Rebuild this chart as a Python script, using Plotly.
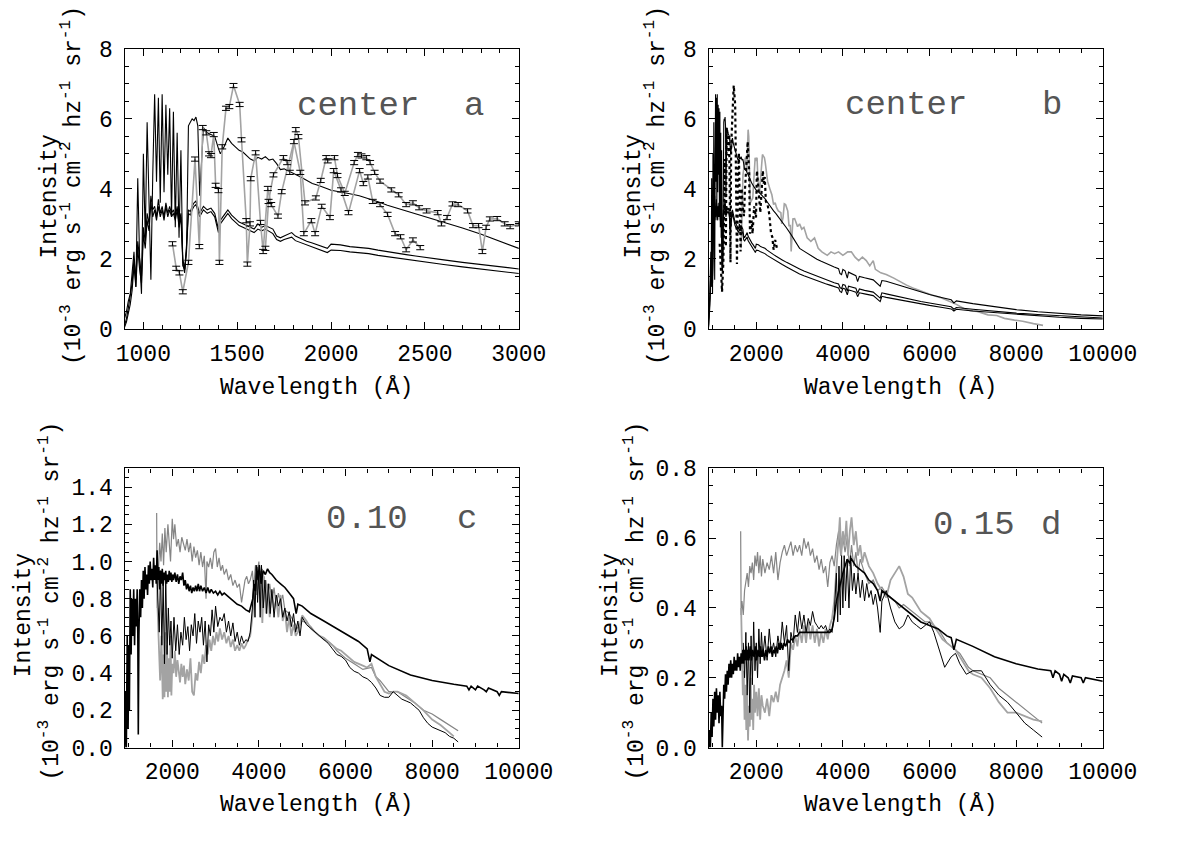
import plotly.graph_objects as go

W, H = 1185, 842
FONT = "Liberation Mono"

# ---------------- panels a & b : model spectra (same models in both) ----------------
AB_WAVE = [900, 910, 920, 930, 940, 950, 960, 970, 980, 990,
           1000, 1010, 1020, 1030, 1040, 1050, 1060, 1070, 1080, 1090,
           1100, 1110, 1120, 1130, 1140, 1150, 1160, 1170, 1180, 1190,
           1200, 1210, 1220, 1230, 1240, 1250, 1260, 1270, 1280, 1290,
           1300, 1320, 1340, 1360, 1380, 1400, 1410, 1430, 1450, 1470,
           1490, 1510, 1530, 1550, 1570, 1590, 1610, 1630, 1650, 1670,
           1690, 1710, 1730, 1750, 1770, 1790, 1810, 1830, 1850, 1870,
           1900, 1930, 1960, 1980, 2000, 2050, 2100, 2150, 2200, 2250,
           2300, 2350, 2400, 2450, 2500, 2600, 2700, 2800, 2900, 3000,
           3100, 3200, 3300, 3400, 3500, 3600, 3700, 3800, 3900, 3933,
           3970, 4000, 4050, 4102, 4130, 4200, 4300, 4340, 4380, 4500,
           4700, 4861, 4900, 5000, 5200, 5500, 5800, 6000, 6300, 6500,
           6563, 6620, 7000, 7500, 8000, 8500, 9000, 9500, 10000]
AB_MODEL_HI = [0.3, 0.5, 0.8, 1.0, 1.6, 2.2, 1.2, 4.3, 2.0, 1.0,
               5.0, 2.6, 5.9, 3.2, 1.4, 4.4, 6.7, 4.2, 6.6, 3.6,
               6.7, 3.9, 6.4, 4.4, 6.3, 3.2, 6.2, 2.9, 5.6, 2.6,
               5.1, 1.8, 1.7, 2.2, 5.8, 5.9, 6.0, 5.95, 6.05, 5.8,
               3.8, 5.75, 5.6, 5.55, 5.5, 5.15, 5.0, 5.2, 5.45, 5.3,
               5.2, 5.1, 5.05, 4.95, 4.85, 4.8, 4.9, 4.85, 4.92, 4.82,
               4.85, 4.72, 4.55, 4.57, 4.52, 4.48, 4.42, 4.36, 4.3, 4.24,
               4.15, 4.1, 4.05, 4.0, 3.96, 3.92, 3.86, 3.8, 3.72, 3.63,
               3.53, 3.45, 3.37, 3.3, 3.22, 3.05, 2.88, 2.7, 2.5, 2.3,
               2.22, 2.14, 2.06, 1.99, 1.93, 1.87, 1.82, 1.77, 1.72, 1.58,
               1.55, 1.7, 1.66, 1.45, 1.62, 1.58, 1.52, 1.35, 1.5, 1.46,
               1.4, 1.22, 1.38, 1.36, 1.28, 1.18, 1.05, 0.98, 0.89, 0.83,
               0.74, 0.8, 0.72, 0.63, 0.55, 0.49, 0.44, 0.4, 0.37]
AB_MODEL_MID = [0.1, 0.3, 0.6, 0.9, 1.3, 2.0, 1.4, 2.5, 1.9, 1.5,
                2.9, 2.5, 3.3, 3.0, 3.8, 3.4, 3.5, 3.2, 3.7, 3.3,
                3.5, 3.2, 3.6, 3.3, 3.5, 3.3, 3.4, 3.2, 3.5, 3.0,
                3.3, 2.0, 1.7, 2.4, 3.4, 3.35, 3.5, 3.6, 3.65, 3.5,
                3.3, 3.5, 3.4, 3.45, 3.3, 2.85, 3.1, 3.25, 3.4, 3.25,
                3.15, 3.05, 3.0, 2.95, 2.9, 2.85, 3.0, 2.9, 2.95, 2.9,
                2.85, 2.65, 2.6, 2.65, 2.7, 2.75, 2.65, 2.6, 2.55, 2.5,
                2.45, 2.4, 2.35, 2.3, 2.42, 2.4, 2.35, 2.33, 2.3, 2.25,
                2.2, 2.17, 2.12, 2.08, 2.05, 1.97, 1.9, 1.83, 1.77, 1.71,
                1.65, 1.6, 1.55, 1.5, 1.45, 1.4, 1.36, 1.32, 1.28, 1.18,
                1.15, 1.27, 1.25, 1.08, 1.22, 1.2, 1.16, 1.02, 1.14, 1.1,
                1.05, 0.88, 1.03, 1.0, 0.94, 0.86, 0.78, 0.74, 0.67, 0.63,
                0.56, 0.61, 0.56, 0.5, 0.45, 0.41, 0.37, 0.34, 0.31]
AB_MODEL_LO = [0.05, 0.2, 0.45, 0.7, 1.1, 1.8, 1.2, 2.3, 1.7, 1.3,
               2.7, 2.3, 3.1, 2.8, 3.6, 3.2, 3.4, 3.1, 3.5, 3.2,
               3.4, 3.1, 3.5, 3.2, 3.4, 3.2, 3.3, 3.1, 3.4, 2.9,
               3.2, 1.9, 1.6, 2.3, 3.3, 3.25, 3.4, 3.5, 3.55, 3.4,
               3.2, 3.4, 3.3, 3.35, 3.2, 2.75, 3.0, 3.15, 3.3, 3.15,
               3.05, 2.95, 2.9, 2.85, 2.78, 2.75, 2.85, 2.8, 2.85, 2.78,
               2.72, 2.55, 2.5, 2.55, 2.58, 2.62, 2.52, 2.48, 2.43, 2.38,
               2.33, 2.28, 2.22, 2.18, 2.25, 2.24, 2.2, 2.18, 2.15, 2.1,
               2.06, 2.02, 1.98, 1.94, 1.91, 1.84, 1.77, 1.7, 1.63, 1.57,
               1.52, 1.47, 1.42, 1.37, 1.33, 1.29, 1.25, 1.21, 1.17, 1.07,
               1.04, 1.16, 1.14, 0.97, 1.11, 1.09, 1.05, 0.92, 1.03, 1.0,
               0.95, 0.78, 0.93, 0.9, 0.85, 0.78, 0.71, 0.67, 0.61, 0.57,
               0.51, 0.56, 0.51, 0.46, 0.41, 0.37, 0.33, 0.3, 0.28]

# observed data set 1 (error bars in a, dotted in b)
OBS1_WAVE = [1155, 1175, 1192, 1210, 1240, 1275, 1298, 1316, 1335, 1350,
             1360, 1375, 1385, 1400, 1405, 1420, 1440, 1458, 1480, 1513,
             1523, 1548, 1554, 1568, 1572, 1598, 1624, 1638, 1663, 1681,
             1717, 1737, 1802, 1836, 1855, 1895, 1915, 1950, 1994, 2014,
             2053, 2093, 2152, 2172, 2196, 2222, 2261, 2301, 2341, 2370,
             2400, 2436, 2475]
OBS1_FLUX = [2.43, 1.73, 1.6, 1.06, 1.9, 4.85, 2.35, 5.75, 5.6, 5.0,
             4.95, 5.55, 4.1, 3.95, 1.9, 5.2, 6.3, 6.35, 6.95, 6.41,
             5.4, 3.09, 1.85, 3.0, 4.29, 5.03, 3.04, 2.21, 4.01, 3.55,
             3.22, 3.92, 5.35, 4.47, 2.72, 3.09, 2.72, 3.5, 3.18, 4.52,
             3.97, 3.32, 4.52, 4.15, 4.34, 3.64, 3.55, 3.27, 2.72, 2.63,
             2.26, 2.54, 2.32]
# observed data set 2 (error bars in a, grey line in b)
OBS2_WAVE = [1650, 1667, 1693, 1746, 1766, 1780, 1812, 1826, 1861, 1919,
             1945, 1974, 1982, 2018, 2034, 2073, 2123, 2143, 2162, 2188,
             2208, 2232, 2261, 2321, 2360, 2400, 2436, 2469, 2509, 2568,
             2588, 2618, 2647, 2677, 2727, 2756, 2786, 2806, 2826, 2846,
             2885, 2925, 2954, 3000, 3050, 3100, 3175, 3260, 3345, 3430,
             3515, 3640, 3725, 3810, 3900, 4000, 4110, 4195, 4280, 4365,
             4450, 4540, 4620, 4700, 4750, 4875, 5000, 5175, 5320, 5470,
             5650, 5855, 6050, 6240, 6430, 6620, 6790, 6950, 7100, 7350,
             7550, 7730, 7960, 8150, 8400, 8620]
OBS2_FLUX = [2.3, 3.64, 4.4, 4.89, 4.75, 4.47, 5.69, 5.49, 3.6, 3.74,
             4.24, 4.89, 4.8, 4.89, 4.38, 3.87, 4.75, 4.98, 4.94, 4.89,
             4.75, 4.47, 4.22, 3.97, 3.83, 3.55, 3.6, 3.46, 3.37, 3.32,
             3.0, 3.18, 3.57, 3.55, 3.37, 2.95, 2.95, 2.21, 2.9, 3.14,
             3.15, 3.0, 2.92, 3.0, 2.85, 2.9, 2.6, 2.5, 2.6, 2.3,
             2.2, 2.1, 2.2, 2.15, 2.2, 2.1, 2.2, 2.2, 2.05, 1.95,
             2.05, 1.95, 1.8, 1.95, 1.7, 1.6, 1.55, 1.45, 1.35, 1.25,
             1.15, 1.05, 0.97, 0.9, 0.8, 0.7, 0.58, 0.52, 0.5, 0.4,
             0.38, 0.3, 0.25, 0.22, 0.15, 0.1]
OBS_ERR = 0.06

# ---------------- panel c (0.10) ----------------
C_MODEL_WAVE = [900, 920, 940, 960, 980, 1000, 1010, 1030, 1050, 1070,
                1090, 1110, 1130, 1150, 1170, 1190, 1205, 1216, 1230, 1250,
                1270, 1290, 1310, 1330, 1350, 1370, 1390, 1410, 1430, 1450,
                1470, 1490, 1510, 1530, 1550, 1570, 1590, 1610, 1630, 1650,
                1670, 1690, 1710, 1730, 1750, 1770, 1790, 1810, 1830, 1850,
                1870, 1890, 1910, 1930, 1950, 1970, 1990, 2010, 2030, 2060,
                2090, 2120, 2150, 2180, 2210, 2240, 2270, 2300, 2330, 2360,
                2390, 2420, 2450, 2480, 2510, 2540, 2570, 2600, 2630, 2660,
                2700, 2740, 2780, 2820, 2860, 2900, 2950, 3000, 3050, 3100,
                3150, 3200, 3300, 3400, 3500, 3600, 3700, 3780, 3820, 3860,
                3890, 3920, 3950, 3980, 4010, 4050, 4100, 4150, 4200, 4250,
                4300, 4400, 4500, 4600, 4700, 4800, 4861, 4900, 5000, 5200,
                5500, 5800, 6000, 6300, 6500, 6563, 6600, 6800, 7000, 7500,
                8000, 8500, 8800, 8850, 8900, 9000, 9050, 9200, 9250, 9300,
                9500, 9550, 9600, 10000]
C_MODEL_FLUX = [0.0, 0.3, 0.0, 0.6, 0.1, 0.55, 0.2, 0.85, 0.5, 0.8,
                0.6, 0.85, 0.55, 0.8, 0.65, 0.85, 0.6, 0.07, 0.6, 0.85,
                0.7, 0.9, 0.75, 0.95, 0.8, 0.97, 0.85, 0.93, 0.82, 0.98,
                0.88, 1.0, 0.9, 0.96, 0.86, 1.02, 0.9, 0.98, 0.88, 1.06,
                0.9, 0.97, 0.85, 0.95, 0.88, 0.96, 0.87, 0.94, 0.9, 0.95,
                0.88, 0.93, 0.89, 0.95, 0.9, 0.94, 0.89, 0.93, 0.9, 0.94,
                0.89, 0.93, 0.88, 0.92, 0.9, 0.94, 0.87, 0.9, 0.85, 0.88,
                0.84, 0.87, 0.83, 0.86, 0.84, 0.87, 0.84, 0.88, 0.84, 0.87,
                0.84, 0.86, 0.83, 0.86, 0.83, 0.85, 0.83, 0.84, 0.82, 0.84,
                0.82, 0.83, 0.81, 0.79, 0.77, 0.76, 0.74, 0.73, 0.76, 0.8,
                0.88, 0.84, 0.97, 0.9, 0.98, 0.88, 0.95, 0.93, 0.96, 0.94,
                0.93, 0.9, 0.88, 0.86, 0.83, 0.8, 0.72, 0.77, 0.76, 0.72,
                0.68, 0.64, 0.61, 0.57, 0.53, 0.46, 0.5, 0.47, 0.44, 0.39,
                0.36, 0.34, 0.33, 0.31, 0.33, 0.31, 0.33, 0.31, 0.3, 0.32,
                0.3, 0.28, 0.3, 0.29]
C_THIN_WAVE = [1650, 1700, 1730, 1760, 1790, 1820, 1850, 1880, 1910, 1940,
               1970, 2000, 2040, 2080, 2120, 2160, 2200, 2240, 2280, 2320,
               2360, 2400, 2440, 2480, 2520, 2560, 2600, 2640, 2680, 2720,
               2760, 2800, 2840, 2880, 2920, 2960, 3000, 3050, 3100, 3150,
               3200, 3250, 3300, 3350, 3400, 3450, 3500, 3550, 3600, 3650,
               3700, 3750, 3800, 3850, 3880, 3910, 3940, 3970, 4000, 4030,
               4060, 4100, 4140, 4180, 4220, 4260, 4300, 4350, 4400, 4450,
               4500, 4550, 4600, 4650, 4700, 4750, 4800, 4850, 4900, 4950,
               5000, 5100, 5200, 5300, 5400, 5500, 5600, 5700, 5800, 5900,
               6000, 6100, 6200, 6300, 6400, 6500, 6600, 6700, 6800, 6900,
               7000, 7100, 7200, 7300, 7400, 7500, 7600, 7700, 7800, 7900,
               8000, 8100, 8200, 8300, 8400, 8500, 8600]
C_THIN_FLUX = [0.9, 0.62, 0.95, 0.55, 0.88, 0.45, 0.92, 0.5, 0.75, 0.55,
               0.68, 0.48, 0.7, 0.52, 0.66, 0.5, 0.62, 0.55, 0.7, 0.58,
               0.65, 0.52, 0.66, 0.6, 0.72, 0.56, 0.68, 0.62, 0.7, 0.55,
               0.68, 0.46, 0.66, 0.6, 0.74, 0.62, 0.76, 0.65, 0.7, 0.68,
               0.72, 0.62, 0.68, 0.6, 0.67, 0.57, 0.62, 0.55, 0.6, 0.56,
               0.58, 0.57, 0.62, 0.75, 0.9, 0.7, 0.98, 0.78, 0.95, 0.7,
               0.98, 0.75, 0.9, 0.72, 0.88, 0.72, 0.85, 0.7, 0.82, 0.76,
               0.8, 0.7, 0.75, 0.68, 0.73, 0.65, 0.72, 0.62, 0.68, 0.6,
               0.7, 0.66, 0.64, 0.62, 0.6, 0.58, 0.56, 0.53, 0.5, 0.49,
               0.47, 0.43, 0.41, 0.4, 0.38, 0.37, 0.35, 0.32, 0.28, 0.27,
               0.27, 0.3, 0.28, 0.26, 0.25, 0.24, 0.22, 0.2, 0.16, 0.13,
               0.11, 0.1, 0.09, 0.08, 0.06, 0.05, 0.03]
C_GREY1_WAVE = [1640, 1650, 1680, 1710, 1740, 1770, 1800, 1830, 1860, 1900,
                1930, 1960, 2000, 2030, 2060, 2100, 2140, 2180, 2220, 2260,
                2300, 2340, 2380, 2420, 2460, 2500, 2540, 2580, 2620, 2660,
                2700, 2740, 2780, 2800, 2840, 2880, 2920, 2960, 3000, 3040,
                3080, 3120, 3160, 3200, 3250, 3300, 3350, 3400, 3450, 3500,
                3550, 3600, 3640, 3680, 3720, 3760, 3800, 3850, 3880, 3920,
                3960, 4000, 4040, 4080, 4120, 4160, 4200, 4250, 4300, 4350,
                4400, 4450, 4500, 4550, 4600, 4700, 4800, 4900, 5000, 5100,
                5200, 5300, 5400, 5500, 5600, 5700, 5800, 5900, 6000, 6200,
                6400, 6600, 6700, 6800, 6900, 7000, 7200, 7400, 7600, 7800,
                8000, 8200, 8400, 8600]
C_GREY1_FLUX = [1.26, 0.75, 0.95, 1.1, 1.0, 1.15, 0.98, 1.18, 1.05, 1.2,
                1.1, 1.0, 1.23, 1.12, 1.2, 1.08, 1.12, 1.05, 1.13, 1.1,
                1.06, 1.12, 1.05, 1.1, 1.0, 1.08, 1.02, 1.06, 0.98, 1.05,
                0.97, 1.03, 0.8, 1.0, 0.97, 1.02, 0.96, 1.05, 1.07, 0.97,
                1.02, 0.95, 0.98, 0.93, 0.96, 0.9, 0.93, 0.87, 0.9, 0.86,
                0.88, 0.78, 0.85, 0.9, 0.92, 0.88, 0.9, 0.95, 0.85, 0.98,
                0.93, 1.0, 0.75, 0.96, 0.8, 0.9, 0.82, 0.88, 0.78, 0.86,
                0.76, 0.83, 0.78, 0.82, 0.74, 0.72, 0.68, 0.64, 0.68, 0.67,
                0.65, 0.62, 0.6, 0.58, 0.57, 0.55, 0.52, 0.5, 0.48, 0.45,
                0.42, 0.43, 0.38, 0.36, 0.33, 0.3, 0.3, 0.27, 0.24, 0.2,
                0.18, 0.15, 0.12, 0.09]
C_GREY2_WAVE = [1660, 1690, 1720, 1750, 1780, 1800, 1820, 1840, 1860, 1880,
                1900, 1920, 1940, 1960, 1980, 2000, 2030, 2060, 2090, 2120,
                2150, 2180, 2210, 2240, 2270, 2300, 2340, 2380, 2420, 2460,
                2500, 2540, 2580, 2620, 2660, 2700, 2740, 2780, 2820, 2860,
                2900, 2940, 2980, 3020, 3060, 3100, 3150, 3200, 3250, 3300,
                3350, 3400, 3450, 3500, 3550, 3600, 3650, 3700, 3750, 3800,
                3850, 3880, 3920, 3950, 3980, 4010, 4040, 4080, 4120, 4160,
                4200, 4250, 4300, 4350, 4400, 4450, 4500, 4550, 4600, 4650,
                4700, 4750, 4800, 4850, 4900, 5000, 5100, 5200, 5300, 5400,
                5500, 5600, 5700, 5800, 5900, 6000, 6200, 6400, 6500, 6600,
                6700, 6800, 6900, 7000, 7100, 7200, 7400, 7600, 7800, 8000,
                8200, 8400, 8500]
C_GREY2_FLUX = [0.75, 0.55, 0.36, 0.6, 0.26, 0.5, 0.27, 0.62, 0.3, 0.55,
                0.27, 0.48, 0.3, 0.6, 0.28, 0.45, 0.4, 0.52, 0.38, 0.47,
                0.42, 0.35, 0.45, 0.38, 0.44, 0.34, 0.42, 0.36, 0.48, 0.3,
                0.28, 0.4, 0.36, 0.46, 0.4, 0.5, 0.45, 0.55, 0.5, 0.58,
                0.52, 0.6, 0.55, 0.62, 0.57, 0.64, 0.58, 0.62, 0.56, 0.6,
                0.54, 0.58, 0.52, 0.55, 0.52, 0.56, 0.53, 0.55, 0.58, 0.6,
                0.7, 0.8, 0.9, 0.82, 0.98, 0.85, 0.95, 0.67, 0.92, 0.72,
                0.88, 0.7, 0.84, 0.74, 0.8, 0.7, 0.82, 0.68, 0.74, 0.62,
                0.7, 0.6, 0.66, 0.6, 0.62, 0.71, 0.68, 0.64, 0.62, 0.6,
                0.59, 0.57, 0.55, 0.53, 0.52, 0.5, 0.46, 0.44, 0.43, 0.45,
                0.38, 0.34, 0.3, 0.29, 0.3, 0.3, 0.28, 0.24, 0.2, 0.15,
                0.12, 0.08, 0.06]

# ---------------- panel d (0.15) ----------------
D_MODEL_WAVE = [900, 920, 940, 960, 980, 1000, 1020, 1040, 1060, 1080,
                1100, 1120, 1140, 1160, 1180, 1200, 1216, 1230, 1250, 1270,
                1290, 1310, 1330, 1350, 1370, 1390, 1410, 1430, 1450, 1470,
                1490, 1510, 1530, 1550, 1570, 1590, 1610, 1630, 1650, 1670,
                1690, 1710, 1730, 1750, 1770, 1790, 1810, 1830, 1860, 1890,
                1920, 1950, 1980, 2010, 2040, 2070, 2100, 2130, 2160, 2190,
                2220, 2250, 2280, 2310, 2340, 2370, 2400, 2430, 2460, 2490,
                2520, 2550, 2580, 2610, 2640, 2680, 2720, 2760, 2800, 2850,
                2900, 2950, 3000, 3100, 3200, 3300, 3400, 3500, 3600, 3700,
                3750, 3800, 3850, 3900, 3950, 4000, 4050, 4100, 4150, 4200,
                4250, 4300, 4400, 4500, 4600, 4700, 4800, 4861, 4900, 5000,
                5200, 5500, 5800, 6000, 6200, 6400, 6500, 6563, 6620, 7000,
                7500, 8000, 8500, 8800, 8850, 8900, 9000, 9050, 9100, 9200,
                9250, 9300, 9500, 9550, 9600, 10000]
D_MODEL_FLUX = [0.0, 0.05, 0.0, 0.1, 0.03, 0.14, 0.06, 0.16, 0.08, 0.17,
                0.1, 0.15, 0.07, 0.16, 0.09, 0.12, 0.0, 0.1, 0.18, 0.14,
                0.21, 0.16, 0.22, 0.18, 0.24, 0.2, 0.25, 0.2, 0.24, 0.21,
                0.26, 0.22, 0.25, 0.22, 0.27, 0.23, 0.26, 0.22, 0.27, 0.24,
                0.28, 0.24, 0.28, 0.25, 0.29, 0.25, 0.28, 0.25, 0.29, 0.25,
                0.28, 0.26, 0.29, 0.25, 0.28, 0.26, 0.29, 0.26, 0.28, 0.25,
                0.28, 0.26, 0.29, 0.27, 0.29, 0.26, 0.28, 0.27, 0.29, 0.27,
                0.3, 0.28, 0.3, 0.28, 0.3, 0.29, 0.31, 0.3, 0.31, 0.31,
                0.32, 0.32, 0.33, 0.33, 0.33, 0.33, 0.33, 0.33, 0.33, 0.33,
                0.34, 0.37, 0.42, 0.45, 0.47, 0.5, 0.52, 0.54, 0.53, 0.54,
                0.53, 0.52, 0.51, 0.5, 0.48, 0.47, 0.45, 0.42, 0.45, 0.44,
                0.42, 0.39, 0.36, 0.35, 0.34, 0.32, 0.315, 0.28, 0.31, 0.29,
                0.26, 0.24, 0.225, 0.22, 0.2, 0.22, 0.21, 0.19, 0.21, 0.2,
                0.185, 0.205, 0.2, 0.185, 0.2, 0.19]
D_THIN_WAVE = [1700, 1730, 1760, 1790, 1820, 1850, 1880, 1910, 1940, 1970,
               2000, 2030, 2060, 2090, 2120, 2150, 2200, 2250, 2300, 2350,
               2400, 2450, 2500, 2550, 2600, 2650, 2700, 2750, 2800, 2850,
               2900, 2950, 3000, 3050, 3100, 3150, 3200, 3250, 3300, 3350,
               3400, 3450, 3500, 3550, 3600, 3650, 3700, 3750, 3800, 3850,
               3880, 3910, 3940, 3970, 4000, 4030, 4060, 4100, 4140, 4180,
               4220, 4260, 4300, 4350, 4400, 4450, 4500, 4550, 4600, 4650,
               4700, 4750, 4800, 4861, 4900, 5000, 5100, 5200, 5300, 5400,
               5500, 5600, 5700, 5800, 5900, 6000, 6100, 6200, 6300, 6350,
               6500, 6600, 6700, 6850, 7000, 7200, 7400, 7600, 7800, 8000,
               8200, 8400, 8600]
D_THIN_FLUX = [0.3, 0.2, 0.33, 0.15, 0.3, 0.1, 0.32, 0.18, 0.36, 0.22,
               0.3, 0.2, 0.34, 0.24, 0.33, 0.26, 0.32, 0.25, 0.34, 0.27,
               0.3, 0.26, 0.32, 0.28, 0.36, 0.3, 0.35, 0.22, 0.33, 0.3,
               0.38, 0.33, 0.39, 0.34, 0.38, 0.33, 0.37, 0.35, 0.39, 0.36,
               0.35, 0.34, 0.35, 0.34, 0.35, 0.33, 0.34, 0.33, 0.38, 0.5,
               0.36, 0.52, 0.38, 0.55, 0.4, 0.55, 0.42, 0.54, 0.4, 0.55,
               0.45, 0.5, 0.44, 0.5, 0.43, 0.48, 0.42, 0.47, 0.43, 0.45,
               0.41, 0.44, 0.4, 0.33, 0.42, 0.45, 0.4, 0.36, 0.34, 0.35,
               0.38, 0.36, 0.35, 0.34, 0.35, 0.36, 0.33, 0.29, 0.25, 0.23,
               0.26, 0.27, 0.24, 0.21, 0.22, 0.22, 0.18, 0.15, 0.13, 0.1,
               0.07, 0.05, 0.03]
D_GREY1_WAVE = [1640, 1650, 1670, 1700, 1730, 1760, 1790, 1820, 1850, 1880,
                1910, 1940, 1970, 2000, 2030, 2060, 2090, 2120, 2150, 2200,
                2250, 2300, 2350, 2400, 2450, 2500, 2550, 2600, 2650, 2700,
                2750, 2800, 2850, 2900, 2950, 3000, 3050, 3100, 3150, 3200,
                3250, 3300, 3350, 3400, 3450, 3500, 3550, 3600, 3650, 3700,
                3750, 3800, 3850, 3900, 3950, 4000, 4050, 4100, 4150, 4200,
                4250, 4300, 4350, 4400, 4450, 4500, 4600, 4700, 4800, 4900,
                5000, 5100, 5200, 5300, 5400, 5500, 5600, 5700, 5800, 5900,
                6000, 6100, 6200, 6300, 6400, 6500, 6600, 6700, 6800, 6900,
                7000, 7200, 7400, 7600, 7800, 8000, 8200, 8400, 8600]
D_GREY1_FLUX = [0.62, 0.38, 0.42, 0.38, 0.45, 0.48, 0.5, 0.46, 0.52, 0.5,
                0.53, 0.48, 0.55, 0.52, 0.56, 0.5, 0.55, 0.49, 0.54, 0.5,
                0.53, 0.51, 0.55, 0.5, 0.56, 0.48, 0.53, 0.56, 0.58, 0.55,
                0.57, 0.59, 0.55, 0.58, 0.56, 0.58, 0.55, 0.6, 0.57, 0.59,
                0.55, 0.57, 0.53, 0.55, 0.51, 0.54, 0.5, 0.52, 0.46, 0.53,
                0.55, 0.52, 0.58, 0.62, 0.55, 0.6, 0.56, 0.6, 0.52, 0.58,
                0.52, 0.56, 0.5, 0.54, 0.52, 0.5, 0.47, 0.48, 0.45, 0.46,
                0.44, 0.43, 0.42, 0.4, 0.41, 0.4, 0.39, 0.38, 0.37, 0.36,
                0.36, 0.35, 0.34, 0.32, 0.3, 0.29, 0.28, 0.27, 0.25, 0.23,
                0.22, 0.21, 0.2, 0.17, 0.15, 0.13, 0.11, 0.09, 0.07]
D_GREY2_WAVE = [1650, 1670, 1690, 1710, 1730, 1750, 1770, 1790, 1810, 1830,
                1850, 1870, 1890, 1910, 1930, 1950, 1970, 2000, 2030, 2060,
                2090, 2120, 2150, 2200, 2250, 2300, 2350, 2400, 2450, 2500,
                2550, 2600, 2650, 2700, 2750, 2800, 2850, 2900, 2950, 3000,
                3050, 3100, 3150, 3200, 3250, 3300, 3350, 3400, 3450, 3500,
                3550, 3600, 3650, 3700, 3750, 3800, 3850, 3900, 3930, 3960,
                4000, 4040, 4080, 4120, 4160, 4200, 4250, 4300, 4350, 4400,
                4450, 4500, 4600, 4700, 4800, 4900, 5000, 5100, 5200, 5300,
                5400, 5500, 5600, 5700, 5800, 5900, 6000, 6100, 6200, 6300,
                6400, 6500, 6600, 6700, 6800, 6900, 7000, 7200, 7400, 7600,
                7800, 8000, 8200, 8400, 8600]
D_GREY2_FLUX = [0.4, 0.3, 0.15, 0.22, 0.08, 0.18, 0.05, 0.15, 0.02, 0.12,
                0.06, 0.2, 0.08, 0.14, 0.05, 0.18, 0.1, 0.16, 0.09, 0.17,
                0.08, 0.15, 0.12, 0.1, 0.14, 0.09, 0.15, 0.13, 0.16, 0.13,
                0.18, 0.2, 0.22, 0.25, 0.2, 0.3, 0.28, 0.32, 0.29, 0.34,
                0.3, 0.35, 0.3, 0.36, 0.31, 0.35, 0.3, 0.34, 0.29, 0.33,
                0.3, 0.34, 0.31, 0.35, 0.37, 0.42, 0.5, 0.6, 0.66, 0.55,
                0.62, 0.58, 0.65, 0.55, 0.62, 0.66, 0.58, 0.62, 0.55, 0.58,
                0.53, 0.56, 0.52, 0.5, 0.47, 0.45, 0.43, 0.48, 0.5, 0.52,
                0.49, 0.44, 0.43, 0.41, 0.39, 0.38, 0.37, 0.35, 0.33, 0.31,
                0.3, 0.29, 0.28, 0.26, 0.24, 0.22, 0.21, 0.2, 0.17, 0.13,
                0.1, 0.1, 0.09, 0.08, 0.075]

PANEL_LABELS = [("center", "a"), ("center", "b"), ("0.10", "c"), ("0.15", "d")]
X_TITLE = "Wavelength (Å)"
Y_TITLE_1 = "Intensity"
Y_TITLE_2 = "(10<sup>-3</sup> erg s<sup>-1</sup> cm<sup>-2</sup> hz<sup>-1</sup> sr<sup>-1</sup>)"

# ---------------- figure ----------------
BLACK = "#000000"
GREY_L = "#a3a3a3"
GREY_D = "#858585"

fig = go.Figure()


def line(x, y, xa, ya, color, width, dash="solid"):
    fig.add_trace(go.Scatter(x=x, y=y, xaxis=xa, yaxis=ya, mode="lines",
                             line=dict(color=color, width=width, dash=dash),
                             hoverinfo="skip", showlegend=False))


def errbars(x, y, xa, ya):
    fig.add_trace(go.Scatter(x=x, y=y, xaxis=xa, yaxis=ya, mode="markers",
                             marker=dict(size=1, color="rgba(0,0,0,0)"),
                             error_y=dict(type="constant", value=OBS_ERR, color=BLACK,
                                          thickness=1, width=4),
                             hoverinfo="skip", showlegend=False))


# panel a
for m in (AB_MODEL_HI, AB_MODEL_MID, AB_MODEL_LO):
    line(AB_WAVE, m, "x", "y", BLACK, 1.1)
line(OBS1_WAVE, OBS1_FLUX, "x", "y", GREY_L, 1.6)
line(OBS2_WAVE, OBS2_FLUX, "x", "y", GREY_L, 1.6)
errbars(OBS1_WAVE, OBS1_FLUX, "x", "y")
errbars([w for w in OBS2_WAVE if w <= 3000],
        [f for w, f in zip(OBS2_WAVE, OBS2_FLUX) if w <= 3000], "x", "y")

# panel b
line(OBS2_WAVE, OBS2_FLUX, "x2", "y2", GREY_L, 1.6)
for m in (AB_MODEL_HI, AB_MODEL_MID, AB_MODEL_LO):
    line(AB_WAVE, m, "x2", "y2", BLACK, 1.1)
line(OBS1_WAVE, OBS1_FLUX, "x2", "y2", BLACK, 2.2, "dot")

# panel c
line(C_GREY1_WAVE, C_GREY1_FLUX, "x3", "y3", GREY_D, 1.2)
line(C_GREY2_WAVE, C_GREY2_FLUX, "x3", "y3", GREY_L, 1.8)
line(C_THIN_WAVE, C_THIN_FLUX, "x3", "y3", BLACK, 1.0)
line(C_MODEL_WAVE, C_MODEL_FLUX, "x3", "y3", BLACK, 1.6)

# panel d
line(D_GREY1_WAVE, D_GREY1_FLUX, "x4", "y4", GREY_D, 1.2)
line(D_GREY2_WAVE, D_GREY2_FLUX, "x4", "y4", GREY_L, 1.8)
line(D_THIN_WAVE, D_THIN_FLUX, "x4", "y4", BLACK, 1.0)
line(D_MODEL_WAVE, D_MODEL_FLUX, "x4", "y4", BLACK, 1.6)

# geometry (pixels)
XA = [121 / W, 530 / W]
XB = [727 / W, 1136 / W]
YT = [1 - 328 / H, 1 - 39 / H]
YB = [1 - 760 / H, 1 - 472 / H]


def axis(domain, anchor, rng, dtick, mdtick, fmt, is_x=True):
    return dict(domain=domain, anchor=anchor, range=rng, dtick=dtick, tick0=0,
                tickformat=fmt,
                showline=True, linecolor=BLACK, linewidth=1.2, mirror="ticks",
                ticks="inside", ticklen=7, tickwidth=1, tickcolor=BLACK,
                minor=dict(ticks="inside", ticklen=4, dtick=mdtick, tick0=0,
                           tickcolor=BLACK, tickwidth=1, showgrid=False),
                showgrid=False, zeroline=False, fixedrange=True,
                tickfont=dict(family=FONT, size=23, color=BLACK),
                ticklabelstandoff=3 if is_x else 6)


fig.update_layout(
    width=W, height=H, margin=dict(l=0, r=0, t=0, b=0),
    paper_bgcolor="white", plot_bgcolor="white", showlegend=False,
    xaxis=axis(XA, "y", [900, 3000], 500, 100, "d"),
    yaxis=axis(YT, "x", [0, 8], 2, 0.5, "d", is_x=False),
    xaxis2=axis(XB, "y2", [900, 10000], 2000, 500, "d"),
    yaxis2=axis(YT, "x2", [0, 8], 2, 0.5, "d", is_x=False),
    xaxis3=axis(XA, "y3", [900, 10000], 2000, 500, "d"),
    yaxis3=axis(YB, "x3", [0, 1.5], 0.2, 0.05, ".1f", is_x=False),
    xaxis4=axis(XB, "y4", [900, 10000], 2000, 500, "d"),
    yaxis4=axis(YB, "x4", [0, 0.8], 0.2, 0.05, ".1f", is_x=False),
)

ann = []


def text(s, xpx, ypx, size, xanchor="center", yanchor="middle", angle=0, color=BLACK):
    ann.append(dict(text=s, x=xpx / W, y=1 - ypx / H, xref="paper", yref="paper",
                    xanchor=xanchor, yanchor=yanchor, textangle=angle, showarrow=False,
                    font=dict(family=FONT, size=size, color=color)))


# axis titles
for cx in (320, 926):
    text(X_TITLE, cx, 389, 23)
    text(X_TITLE, cx, 819, 23)
# top row y titles
for lx, l2 in ((44, 67), (650, 673)):
    text(Y_TITLE_1, lx, 191, 23, angle=-90)
    text(Y_TITLE_2, l2, 180, 23, angle=-90)
# bottom row y titles (further left: wider tick labels)
for lx, l2 in ((16, 44), (625, 651)):
    text(Y_TITLE_1, lx, 623, 23, angle=-90)
    text(Y_TITLE_2, l2, 609, 23, angle=-90)

# panel labels
LBL_POS = [((298, 98), (471, 98)), ((866, 97), (1071, 97)),
           ((328, 524), (464, 524)), ((958, 530), (1070, 530))]
LBL_COLOR = "#555555"
for (name, letter), ((x1, y1), (x2, y2)) in zip(PANEL_LABELS, LBL_POS):
    text(name, x1, y1, 34, xanchor="left", color=LBL_COLOR)
    text(letter, x2, y2, 34, xanchor="left", color=LBL_COLOR)

fig.update_layout(annotations=ann)
fig.write_html("out.html", config={"displayModeBar": False})
